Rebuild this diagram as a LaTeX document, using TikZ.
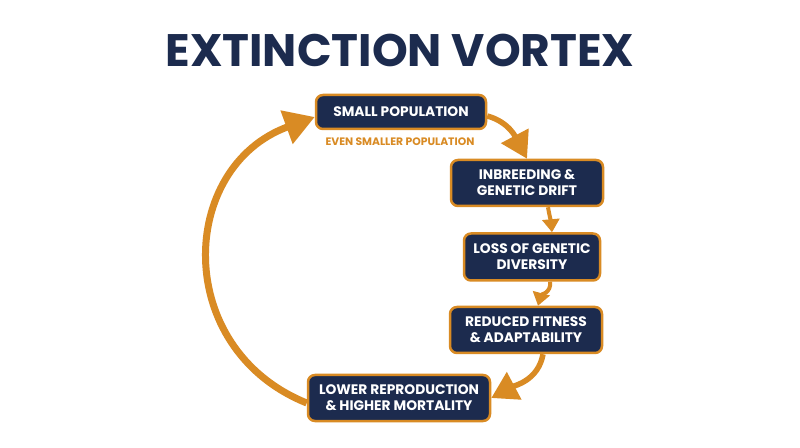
\documentclass[tikz,border=0pt]{standalone}
\usepackage{fontspec}
\setmainfont{Poppins}
\usetikzlibrary{arrows.meta}
\definecolor{vortexnavy}{HTML}{1C2B4E}
\definecolor{vortexorange}{HTML}{D98B24}
\tikzset{
	stage/.style={draw=vortexorange, fill=vortexnavy, line width=2.5pt, rounded corners=7pt, text=white, align=center, font=\bfseries\fontsize{13.8}{16}\selectfont, inner xsep=6pt, minimum height=34pt},
	bigflow/.style={draw=vortexorange, line width=7pt, -{Triangle[length=30pt, width=34pt]}},
	flow/.style={draw=vortexorange, line width=5.5pt, -{Triangle[length=26pt, width=30pt]}},
	smallflow/.style={draw=vortexorange, line width=4pt, -{Triangle[length=13pt, width=17pt]}}
}

\begin{document}
\begin{tikzpicture}[x=1pt, y=1pt]
		%%%%% START %%%%%
		
		\useasboundingbox[fill=white] (0, 0) rectangle (800, 447);
		
		\node[text=vortexnavy, font=\bfseries\fontsize{45.5}{50}\selectfont] (title) at (400, 397) {EXTINCTION VORTEX};
		
		\node[stage, minimum width=170pt] (small) at (401, 335) {SMALL POPULATION};
		\node[text=vortexorange, font=\bfseries\fontsize{10.8}{12}\selectfont] (smaller) at (400, 305) {EVEN SMALLER POPULATION};
		
		\node[stage, minimum width=152pt, minimum height=46pt] (inbreed) at (527, 264) {INBREEDING \&\\GENETIC DRIFT};
		\node[stage, minimum width=136pt, minimum height=47pt] (loss) at (532, 190) {LOSS OF GENETIC\\DIVERSITY};
		\node[stage, minimum width=152pt, minimum height=46pt] (reduced) at (526, 117) {REDUCED FITNESS\\\& ADAPTABILITY};
		\node[stage, minimum width=182pt, minimum height=46pt] (lower) at (399, 49) {LOWER REPRODUCTION\\\& HIGHER MORTALITY};
		
		\draw[flow] ([yshift=-4pt]small.east) to[out=-15, in=118] (inbreed.north);
		\draw[smallflow] ([xshift=21pt]inbreed.south) to[out=-80, in=95] ([xshift=20pt]loss.north);
		\draw[smallflow] ([xshift=18pt]loss.south) to[out=-80, in=75] ([xshift=12pt]reduced.north);
		\draw[flow] ([xshift=17pt]reduced.south) to[out=-100, in=28] (lower.east);
		
		\draw[bigflow] ([yshift=-5pt]lower.west) to[out=158, in=200, looseness=1.3] ([yshift=-5pt]small.west);
		
		%%%%% END %%%%%
	\end{tikzpicture}
\end{document}
